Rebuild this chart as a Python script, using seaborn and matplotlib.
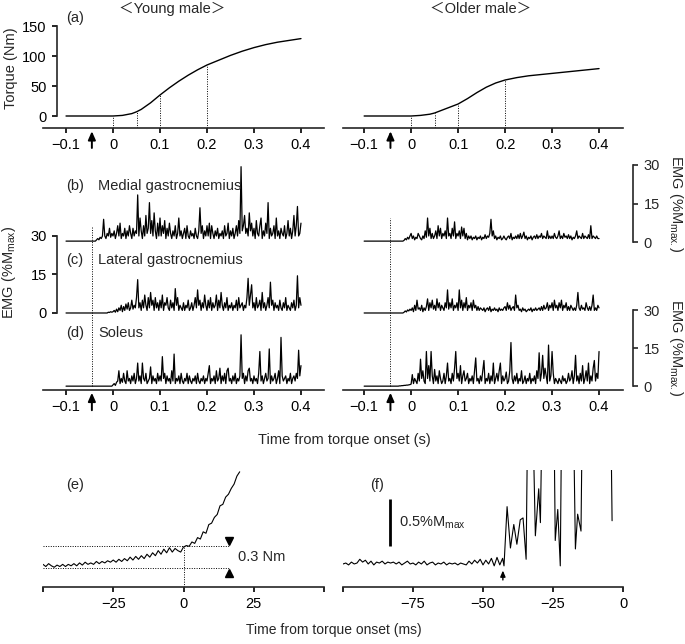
import numpy as np
import matplotlib
matplotlib.use("Agg")
import matplotlib.pyplot as plt
import seaborn as sns

sns.set_style("ticks")
plt.rcParams['font.family'] = ['Liberation Sans', 'Noto Sans CJK JP', 'DejaVu Sans']
plt.rcParams['mathtext.fontset'] = 'custom'
plt.rcParams['mathtext.rm'] = 'Liberation Sans'
plt.rcParams['mathtext.it'] = 'Liberation Sans'
plt.rcParams['axes.unicode_minus'] = True

# ---- (a) torque curves ----
torque_t = [-0.1, -0.05, 0, 0.02, 0.04, 0.05, 0.06, 0.08, 0.1, 0.12, 0.14, 0.16,
            0.18, 0.2, 0.225, 0.25, 0.275, 0.3, 0.325, 0.35, 0.375, 0.4]
torque_young = [0, 0, 0, 1, 4, 7, 11, 22, 35, 47, 58, 68, 77, 85, 93, 101, 108,
                114, 119, 123, 126, 129]
torque_older = [0, 0, 0, 1, 3, 5, 8, 14, 20, 29, 39, 48, 55, 60, 64, 67, 69, 71,
                73, 75, 77, 79]
marker_times = [0, 0.05, 0.1, 0.2]
onset_young = -0.045
onset_older = -0.044

# ---- (b)-(d) EMG, %Mmax, sampled every 2.5 ms from -0.1 s to 0.4 s ----
emg_t = np.linspace(-0.1, 0.4, 201)

young_mg = ([0] * 20 +
            [0, 0, 0, 0, 0, 0, 0.5, 1, 0.5, 1.5, 1, 2, 8.5, 2, 1, 3, 2, 5, 1.5, 3] +
            [2, 4, 1, 3, 6, 2, 7, 1, 3, 2, 5, 1, 4, 2, 6, 3, 1, 5, 2, 4] +
            [3, 18, 2, 9, 4, 1, 6, 2, 10, 3, 5, 15, 3, 8, 2, 11, 4, 1, 7, 2] +
            [9, 2, 6, 3, 8, 1, 5, 2, 7, 3, 1, 4, 2, 6, 1, 3, 9, 2, 4, 1] +
            [3, 5, 1, 6, 2, 1, 4, 2, 3, 1, 5, 2, 1, 4, 13, 3, 6, 1, 4, 2] +
            [6, 2, 7, 1, 6, 3, 1, 4, 2, 5, 1, 3, 2, 4, 1, 6, 2, 3, 7, 1] +
            [4, 2, 5, 1, 3, 6, 2, 8, 3, 29, 4, 6, 10, 3, 5, 2, 11, 4, 7, 2] +
            [5, 1, 8, 3, 2, 6, 9, 1, 4, 2, 7, 3, 15, 1, 5, 2, 3, 6, 1, 9] +
            [2, 4, 1, 5, 3, 2, 6, 1, 3, 8, 2, 5, 1, 4, 10, 2, 6, 13.5, 2, 3] +
            [7])
young_lg = ([0] * 20 +
            [0] * 16 + [0.3, 0.2, 0.5, 0.3] +
            [0.5, 1, 0.3, 1.5, 0.5, 2, 1, 3, 0.5, 2.5, 1, 3.5, 1.5, 4, 1, 2, 5, 1.5, 3, 2] +
            [6, 13, 2, 4, 1, 5, 2, 7, 3, 1, 6, 2, 8, 3, 5, 1, 6, 2, 4, 1] +
            [5, 2, 7, 1, 4, 3, 6, 2, 1, 5, 2, 4, 1, 9.5, 3, 6, 1, 3, 2, 1] +
            [4, 1, 3, 2, 5, 1, 2, 4, 1, 3, 6, 2, 9, 3, 5, 1, 4, 2, 7, 3] +
            [1, 5, 2, 6, 1, 4, 2, 3, 7, 1, 5, 2, 8, 3, 1, 4, 2, 6, 1, 3] +
            [2, 4, 1, 3, 2, 5, 1, 6, 2, 3, 4, 1, 3, 2, 6, 13.5, 3, 7, 11, 2] +
            [4, 1, 6, 2, 3, 5, 1, 8, 2, 4, 1, 3, 6, 2, 12, 3, 5, 1, 4, 2] +
            [3, 1, 5, 2, 1, 4, 2, 6, 1, 3, 2, 1, 4, 2, 5, 1, 3, 14.5, 2, 6] +
            [3])
young_sol = ([0] * 20 + [0] * 20 +
             [0.5, 1, 0.3, 1.5, 2, 6, 1, 3, 1.5, 5, 2, 1, 6, 2, 3, 1, 4, 2, 5, 1] +
             [3, 9, 2, 4, 1, 9, 3, 2, 5, 1, 2, 3, 7.5, 1, 4, 2, 3, 1, 5, 2] +
             [4, 2, 11.5, 3, 5, 1, 4, 2, 3, 1, 6, 2, 12.5, 1, 3, 2, 4, 1, 5, 2] +
             [1, 3, 2, 5, 1, 4, 2, 1, 3, 2, 4, 1, 5, 2, 1, 3, 2, 4, 1, 3] +
             [2, 5, 8, 1, 3, 2, 4, 1, 6, 2, 3, 7, 1, 4, 2, 5, 1, 6, 7, 2] +
             [3, 1, 4, 2, 5, 1, 3, 2, 4, 20, 3, 5, 1, 4, 2, 6, 7, 2, 3, 1] +
             [4, 2, 3, 1, 5, 13.5, 2, 4, 1, 3, 5, 2, 3, 14.5, 1, 4, 2, 3, 5, 1] +
             [3, 6, 1, 19, 4, 2, 3, 4, 1, 3, 2, 5, 1, 3, 4, 2, 5, 3, 14, 4] +
             [8])
older_mg = ([0] * 20 +
            [0] * 14 + [0.3, 1, 0.5, 1.5, 0.8, 2] +
            [3, 1, 2, 0.5, 1.5, 1, 3, 2, 1, 0.5, 2, 1, 4, 1.5, 9, 2, 5, 1, 3, 1] +
            [2, 4, 1, 6, 2, 5, 1, 3, 2, 4, 1, 9, 2, 3, 1, 5, 2, 7.5, 1, 3] +
            [2, 4, 1, 5.5, 2, 5, 1, 3, 0.5, 2, 1, 2, 0.5, 1.5, 1, 2, 0.5, 1.5, 1, 2] +
            [0.5, 1.5, 1, 2.5, 1, 2, 1.5, 3, 8.5, 2, 4, 1, 2, 0.5, 1.5, 1, 2, 0.5, 1, 2] +
            [1, 0.5, 1.5, 2, 1, 3, 0.5, 1.5, 1, 2, 1, 2.5, 1, 3, 1, 2, 3.5, 1, 2, 0.5] +
            [1.5, 1, 2, 0.5, 1.5, 2, 1, 2.5, 1, 2, 1.5, 3, 1, 2, 1.5, 1, 4, 1, 2, 1] +
            [2, 1, 3, 1.5, 1, 2, 4, 1, 2, 1, 3, 1.5, 2, 1, 2.5, 1, 2, 0.5, 1.5, 1] +
            [2, 4, 1, 2, 1.5, 1, 3, 1, 2, 1.5, 1, 2.5, 1, 6, 1, 2, 1.5, 1, 2, 1] +
            [1])
older_lg = ([0] * 20 +
            [0] * 14 + [0.3, 0.8, 0.4, 1.2, 0.8, 1.5] +
            [1, 2, 0.5, 3, 1, 5, 1.5, 2, 1, 3, 0.5, 2, 1, 2.5, 5.5, 1, 4, 2, 5, 1.5] +
            [3, 1, 5.5, 2, 4, 1, 3, 2, 1, 4, 2, 9, 1.5, 4, 2, 5.5, 1, 3, 2, 4] +
            [1, 9, 2, 5, 1, 4, 2, 6, 1, 3, 2, 4, 1, 5, 2, 3, 1, 2.5, 1, 2] +
            [1.5, 1, 2, 0.5, 1.5, 2, 1, 2.5, 0.5, 1.5, 1, 2, 1, 1.5, 0.5, 2, 1, 1.5, 1, 2] +
            [2.5, 1, 4, 1.5, 3, 1, 2, 2.5, 1, 7, 2, 3, 1, 1.5, 0.5, 2, 1, 1.5, 0.5, 1] +
            [1.5, 1, 2, 0.5, 1.5, 1, 2, 1, 1.5, 2, 1, 2.5, 1, 3, 1.5, 2, 4, 1, 3, 2] +
            [4, 1, 5, 2, 3, 1, 4, 2, 5, 1, 3, 2, 4, 1, 2.5, 1, 3, 2, 1, 2] +
            [1, 3, 8, 2, 1, 3, 1.5, 2, 1, 4, 2, 1, 2.5, 1, 3, 7, 1, 2, 1, 3] +
            [2])
older_sol = ([0] * 20 +
             [0] * 10 + [0.1, 0.1, 0.2, 0.2, 0.3, 0.3, 0.4, 0.4, 0.5, 0.6] +
             [0.8, 4.5, 1, 3, 2, 1, 5, 2, 10.5, 3, 6, 2, 1, 13.5, 3, 8, 2, 13.5, 4, 1] +
             [6.5, 2, 4, 1, 6, 3, 1, 2, 5, 1, 4, 9, 2, 3, 1, 5, 2, 7, 13.5, 3] +
             [5, 2, 8, 1, 4, 6, 2, 3, 5, 1, 3, 2, 4, 1, 6, 11, 2, 3, 1, 4] +
             [2, 6, 10, 1, 3, 2, 5, 1, 4, 2, 9, 1, 3, 5, 2, 6, 9, 1, 4, 2] +
             [3, 5.5, 1, 2, 6, 17, 3, 1, 4, 2, 5, 1, 3, 2, 6, 1, 2, 4, 1, 3] +
             [2, 5, 1, 3, 2, 4, 1, 6, 3, 13, 2, 5, 12, 3, 7, 4, 1, 16, 2, 4] +
             [13.5, 5, 1, 3, 2, 1, 3, 2, 1, 4, 2, 3, 1, 2, 5, 2, 3, 6, 1, 4] +
             [12, 2, 4, 1, 5, 2, 8, 1, 3, 6, 2, 9, 1, 4, 2, 7, 10, 2, 5, 3] +
             [13.5])
muscles = ["Medial gastrocnemius", "Lateral gastrocnemius", "Soleus"]

# ---- (e) torque around onset (Nm, relative to baseline), 1 ms steps ----
e_t = list(range(-50, 21))
e_torque = [0.05, 0.02, 0.06, 0.03, 0.01, 0.04, 0.02, 0.05, 0.02, 0.05,
            0.03, 0.06, 0.03, 0.07, 0.04, 0.08, 0.05, 0.07, 0.05, 0.09,
            0.06, 0.09, 0.07, 0.10, 0.08, 0.11, 0.08, 0.12, 0.09, 0.13,
            0.10, 0.15, 0.11, 0.16, 0.12, 0.17, 0.13, 0.19, 0.15, 0.21,
            0.17, 0.24, 0.19, 0.26, 0.21, 0.28, 0.22, 0.27, 0.24, 0.22,
            0.29, 0.31, 0.30, 0.36, 0.34, 0.42, 0.40, 0.50, 0.48, 0.60,
            0.62, 0.70, 0.74, 0.86, 0.88, 0.98, 1.02, 1.10, 1.16, 1.27, 1.33]

# ---- (f) EMG around onset (%Mmax) ----
f_t = list(range(-100, -42)) + [-42.5, -41.4, -40.2, -39.0, -37.9, -36.7, -35.7,
       -34.6, -33.9, -32.5, -31.3, -30.1, -29.5, -28.7, -24.8, -24.2, -23.3,
       -22.4, -21.8, -17.9, -17.0, -16.2, -15.0, -14.4, -4.5, -3.9]
f_emg = [0.0, 0.01, -0.01, 0.02, 0.0, 0.01, 0.05, 0.02, 0.04, 0.0,
         0.03, -0.01, 0.02, 0.01, 0.03, 0.0, 0.02, 0.01, 0.02, 0.0,
         0.02, -0.01, 0.01, 0.03, 0.0, 0.01, -0.01, 0.02, 0.0, 0.03,
         -0.01, 0.01, 0.02, -0.01, 0.01, 0.0, 0.02, -0.01, 0.01, 0.0,
         0.01, -0.01, 0.01, 0.0, -0.01, 0.03, 0.0, 0.04, 0.01, 0.05,
         -0.01, 0.04, 0.0, 0.06, -0.02, 0.07, -0.01, 0.06,
         -0.02, 0.61, 0.17, 0.42, 0.21, 0.47, 0.49, 0.05, 2.0, 2.0, 0.30,
         0.80, 0.44, 2.0, 2.0, 0.25, 0.58, -0.02, 2.0, 2.0, 0.16, 0.53,
         0.35, 2.0, 2.0, 0.46]
f_onset = -42.9

# ---------------- layout helpers ----------------
W, H = 685, 644
fig = plt.figure(figsize=(W / 100, H / 100), dpi=100)


def box(l, t, r, b):
    return [l / W, 1 - b / H, (r - l) / W, (b - t) / H]


def ftxt(x, y, s, **kw):
    fig.text(x / W, 1 - y / H, s, **kw)


FS = 10.5
LW_AX = 1.2
DOT = (0, (1, 1.5))


def style(ax, left=False):
    for s in ["top", "right"]:
        ax.spines[s].set_visible(False)
    ax.spines["left"].set_visible(left)
    ax.spines["bottom"].set_linewidth(LW_AX)
    ax.spines["left"].set_linewidth(LW_AX)
    ax.tick_params(direction="out", length=3.5, width=LW_AX, labelsize=FS, pad=4,
                   colors="k")
    if not left:
        ax.tick_params(axis="y", left=False, labelleft=False)
    ax.patch.set_visible(False)


def up_arrow(ax, x, y0, y1):
    ax.annotate("", xy=(x, y1), xytext=(x, y0),
                xycoords=("data", "axes fraction"), textcoords=("data", "axes fraction"),
                arrowprops=dict(arrowstyle="-|>,head_width=0.22,head_length=0.5",
                                lw=1.4, color="k", shrinkA=0, shrinkB=0),
                annotation_clip=False)


xt = [-0.1, 0, 0.1, 0.2, 0.3, 0.4]
xtl = ["\u22120.1", "0", "0.1", "0.2", "0.3", "0.4"]

# ---------------- (a) ----------------
ax_a1 = fig.add_axes(box(43, 20, 324, 128))
ax_a2 = fig.add_axes(box(343, 20, 623, 128))
for ax, tq, xl, on in [(ax_a1, torque_young, (-0.149, 0.449), onset_young),
                       (ax_a2, torque_older, (-0.145, 0.451), onset_older)]:
    style(ax, left=(ax is ax_a1))
    sns.lineplot(x=torque_t, y=tq, ax=ax, color="k", lw=1.0, estimator=None)
    ax.set_xlim(*xl)
    ax.set_ylim(-20, 160)
    ax.set_xticks(xt, xtl)
    ax.vlines(marker_times, -20, np.interp(marker_times, torque_t, tq),
              colors="k", linestyles=DOT, lw=0.7)
    up_arrow(ax, on, -0.185, -0.03)
ax_a1.spines["left"].set_position(("data", -0.119))
ax_a1.spines["left"].set_bounds(0, 150)
ax_a1.set_yticks([0, 50, 100, 150])
ax_a1.set_ylabel("Torque (Nm)", fontsize=FS)
ax_a1.yaxis.set_label_coords((18 - 43) / 281, (128 - 68) / 108)

# ---------------- (b)-(d) ----------------
offsets = [28, 0, -28.5]
ax_b1 = fig.add_axes(box(43, 160, 324, 390))
ax_b2 = fig.add_axes(box(343, 160, 623, 390))
for ax, traces, xl, on, top in [
        (ax_b1, [young_mg, young_lg, young_sol], (-0.149, 0.449), onset_young, 33.5),
        (ax_b2, [older_mg, older_lg, older_sol], (-0.145, 0.451), onset_older, 37)]:
    style(ax, left=(ax is ax_b1))
    for tr, off in zip(traces, offsets):
        sns.lineplot(x=emg_t, y=np.array(tr) + off, ax=ax, color="k", lw=0.9,
                     estimator=None)
    ax.set_xlim(*xl)
    ax.set_ylim(-30, 59.6)
    ax.set_xticks(xt, xtl)
    ax.vlines([on], -28.4, top, colors="k", linestyles=DOT, lw=0.7)
    up_arrow(ax, on, -0.088, -0.012)
ax_b1.spines["left"].set_position(("data", -0.119))
ax_b1.spines["left"].set_bounds(0, 30)
ax_b1.set_yticks([0, 15, 30])
ax_b1.set_ylabel("EMG (%M$_{\\rm max}$)", fontsize=FS)
ax_b1.yaxis.set_label_coords((18 - 43) / 281, (390 - 272) / 230)

for (yt, yb) in [(165, 242), (310, 386)]:
    axs = fig.add_axes(box(630, yt, 633, yb))
    axs.set_ylim(0, 30)
    axs.set_xticks([])
    for s in ["top", "left", "bottom"]:
        axs.spines[s].set_visible(False)
    axs.spines["right"].set_linewidth(LW_AX)
    axs.yaxis.tick_right()
    axs.set_yticks([0, 15, 30])
    axs.tick_params(direction="out", length=3.5, width=LW_AX, labelsize=FS, pad=4)
    axs.patch.set_visible(False)
    axs.yaxis.set_label_position("right")
    axs.set_ylabel("EMG (%M$_{\\rm max.}$)", fontsize=FS, rotation=270, labelpad=18)

ftxt(66, 186, "(b)", fontsize=FS, va="center")
ftxt(98, 186, muscles[0], fontsize=FS, va="center")
ftxt(66, 260, "(c)", fontsize=FS, va="center")
ftxt(98, 260, muscles[1], fontsize=FS, va="center")
ftxt(66, 333, "(d)", fontsize=FS, va="center")
ftxt(98, 333, muscles[2], fontsize=FS, va="center")
ftxt(66, 18, "(a)", fontsize=FS, va="center")
ftxt(172, 9, "\uff1cYoung male\uff1e", fontsize=FS, ha="center", va="center")
ftxt(481, 9, "\uff1cOlder male\uff1e", fontsize=FS, ha="center", va="center")
ftxt(344, 440, "Time from torque onset (s)", fontsize=FS, ha="center", va="center")

# ---------------- (e) ----------------
ax_e = fig.add_axes(box(43, 470, 324, 587))
style(ax_e)
sns.lineplot(x=e_t, y=e_torque, ax=ax_e, color="k", lw=0.8, estimator=None)
ax_e.set_xlim(-50, 50)
ax_e.set_ylim(-0.263, 1.355)
ax_e.set_xticks([-50, -25, 0, 25, 50], ["", "\u221225", "0", "25", ""])
ax_e.hlines([0, 0.3], -50, 16.3, colors="k", linestyles=DOT, lw=0.7)
ax_e.vlines([0], -0.263, 0.3, colors="k", linestyles=DOT, lw=0.7)
ax_e.plot([16.2], [0.37], marker="v", color="k", ms=6)
ax_e.plot([16.2], [-0.07], marker="^", color="k", ms=6)
ax_e.text(19.5, 0.15, "0.3 Nm", fontsize=FS, va="center")
ftxt(66, 485, "(e)", fontsize=FS, va="center")

# ---------------- (f) ----------------
ax_f = fig.add_axes(box(343, 470, 623, 587))
style(ax_f)
sns.lineplot(x=f_t, y=f_emg, ax=ax_f, color="k", lw=0.8, estimator=None)
ax_f.set_xlim(-100, 0)
ax_f.set_ylim(-0.245, 1.0)
ax_f.set_xticks([-100, -75, -50, -25, 0], ["", "\u221275", "\u221250", "\u221225", "0"])
ax_f.vlines([-83.2], 0.19, 0.69, colors="k", lw=2.0)
ax_f.text(-80, 0.44, "0.5%M$_{\\rm max}$", fontsize=FS, va="center")
ax_f.annotate("", xy=(f_onset, -0.07), xytext=(f_onset, -0.17),
              arrowprops=dict(arrowstyle="-|>,head_width=0.15,head_length=0.35",
                              lw=1.0, color="k", shrinkA=0, shrinkB=0))
ftxt(370, 485, "(f)", fontsize=FS, va="center")
ftxt(334, 630, "Time from torque onset (ms)", fontsize=10, ha="center", va="center")

fig.savefig("out.png", dpi=100)
